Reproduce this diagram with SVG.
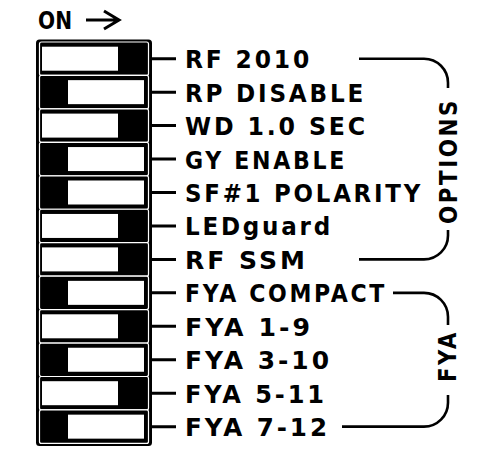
<svg xmlns="http://www.w3.org/2000/svg" width="491" height="466" viewBox="0 0 491 466">
<style>
.lbl{font-family:"DejaVu Sans",sans-serif;font-weight:bold;font-size:25px;letter-spacing:3px;fill:#000}
.row{fill:#000;stroke:#fff;stroke-width:1.2}
.knob{fill:#fff}
.lead{stroke:#000;stroke-width:3;fill:none}
.br{stroke:#000;stroke-width:2.6;fill:none}
</style>
<rect width="491" height="466" fill="#fff"/>
<g id="on-label">
<text class="lbl" x="38" y="28.5" textLength="34" lengthAdjust="spacingAndGlyphs" style="letter-spacing:0">ON</text>
<path class="lead" d="M86,20 H118 M104,11 L119,20 L104,29" stroke-width="2.8"/>
</g>
<g id="switch-frame">
<rect x="37.5" y="41" width="113" height="403.5" rx="2" fill="#000" stroke="#000" stroke-width="3"/>
</g>
<g id="sw1"><rect class="row" x="39.5" y="42" width="109" height="33.45" rx="2"/><rect class="knob" x="42" y="46.7" width="76" height="24"/><text class="lbl" x="185" y="68.2" textLength="127" lengthAdjust="spacingAndGlyphs">RF 2010</text></g>
<g id="sw2"><rect class="row" x="39.5" y="75.45" width="109" height="33.45" rx="2"/><rect class="knob" x="68" y="80.15" width="76" height="24"/><text class="lbl" x="185" y="101.65" textLength="181" lengthAdjust="spacingAndGlyphs">RP DISABLE</text></g>
<g id="sw3"><rect class="row" x="39.5" y="108.9" width="109" height="33.45" rx="2"/><rect class="knob" x="42" y="113.6" width="76" height="24"/><text class="lbl" x="185" y="135.1" textLength="183" lengthAdjust="spacingAndGlyphs">WD 1.0 SEC</text></g>
<g id="sw4"><rect class="row" x="39.5" y="142.35" width="109" height="33.45" rx="2"/><rect class="knob" x="68" y="147.05" width="76" height="24"/><text class="lbl" x="185" y="168.55" textLength="162" lengthAdjust="spacingAndGlyphs">GY ENABLE</text></g>
<g id="sw5"><rect class="row" x="39.5" y="175.8" width="109" height="33.45" rx="2"/><rect class="knob" x="68" y="180.5" width="76" height="24"/><text class="lbl" x="185" y="202" textLength="238" lengthAdjust="spacingAndGlyphs">SF#1 POLARITY</text></g>
<g id="sw6"><rect class="row" x="39.5" y="209.25" width="109" height="33.45" rx="2"/><rect class="knob" x="42" y="213.95" width="76" height="24"/><text class="lbl" x="185" y="235.45" textLength="148" lengthAdjust="spacingAndGlyphs">LEDguard</text></g>
<g id="sw7"><rect class="row" x="39.5" y="242.7" width="109" height="33.45" rx="2"/><rect class="knob" x="42" y="247.4" width="76" height="24"/><text class="lbl" x="185" y="268.9" textLength="123" lengthAdjust="spacingAndGlyphs">RF SSM</text></g>
<g id="sw8"><rect class="row" x="39.5" y="276.15" width="109" height="33.45" rx="2"/><rect class="knob" x="68" y="280.85" width="76" height="24"/><text class="lbl" x="185" y="302.35" textLength="202" lengthAdjust="spacingAndGlyphs">FYA COMPACT</text></g>
<g id="sw9"><rect class="row" x="39.5" y="309.6" width="109" height="33.45" rx="2"/><rect class="knob" x="42" y="314.3" width="76" height="24"/><text class="lbl" x="185" y="335.8" textLength="128" lengthAdjust="spacingAndGlyphs">FYA 1-9</text></g>
<g id="sw10"><rect class="row" x="39.5" y="343.05" width="109" height="33.45" rx="2"/><rect class="knob" x="68" y="347.75" width="76" height="24"/><text class="lbl" x="185" y="369.25" textLength="147" lengthAdjust="spacingAndGlyphs">FYA 3-10</text></g>
<g id="sw11"><rect class="row" x="39.5" y="376.5" width="109" height="33.45" rx="2"/><rect class="knob" x="42" y="381.2" width="76" height="24"/><text class="lbl" x="185" y="402.7" textLength="142" lengthAdjust="spacingAndGlyphs">FYA 5-11</text></g>
<g id="sw12"><rect class="row" x="39.5" y="409.95" width="109" height="33.45" rx="2"/><rect class="knob" x="68" y="414.65" width="76" height="24"/><text class="lbl" x="185" y="436.15" textLength="145" lengthAdjust="spacingAndGlyphs">FYA 7-12</text></g>
<g id="connectors">
<path class="lead" d="M152,58.7 H176 M152,92.15 H176 M152,125.6 H176 M152,159.05 H176 M152,192.5 H176 M152,225.95 H176 M152,259.4 H176 M152,292.85 H176 M152,326.3 H176 M152,359.75 H176 M152,393.2 H176 M152,426.65 H176"/>
<path class="br" d="M359,58.7 H424 A24,24 0 0 1 448,82.7 V88 M448,230 V235.4 A24,24 0 0 1 424,259.4 H359"/>
<path class="br" d="M393,292.85 H424 A24,24 0 0 1 448,316.85 V325 M448,395 V402.65 A24,24 0 0 1 424,426.65 H342"/>
</g>
<g id="options-label">
<text class="lbl" transform="translate(457,161) rotate(-90)" x="0" y="0" text-anchor="middle" textLength="126" lengthAdjust="spacingAndGlyphs">OPTIONS</text>
</g>
<g id="fya-label">
<text class="lbl" transform="translate(456,356) rotate(-90)" x="0" y="0" text-anchor="middle" textLength="52" lengthAdjust="spacingAndGlyphs">FYA</text>
</g>
</svg>
